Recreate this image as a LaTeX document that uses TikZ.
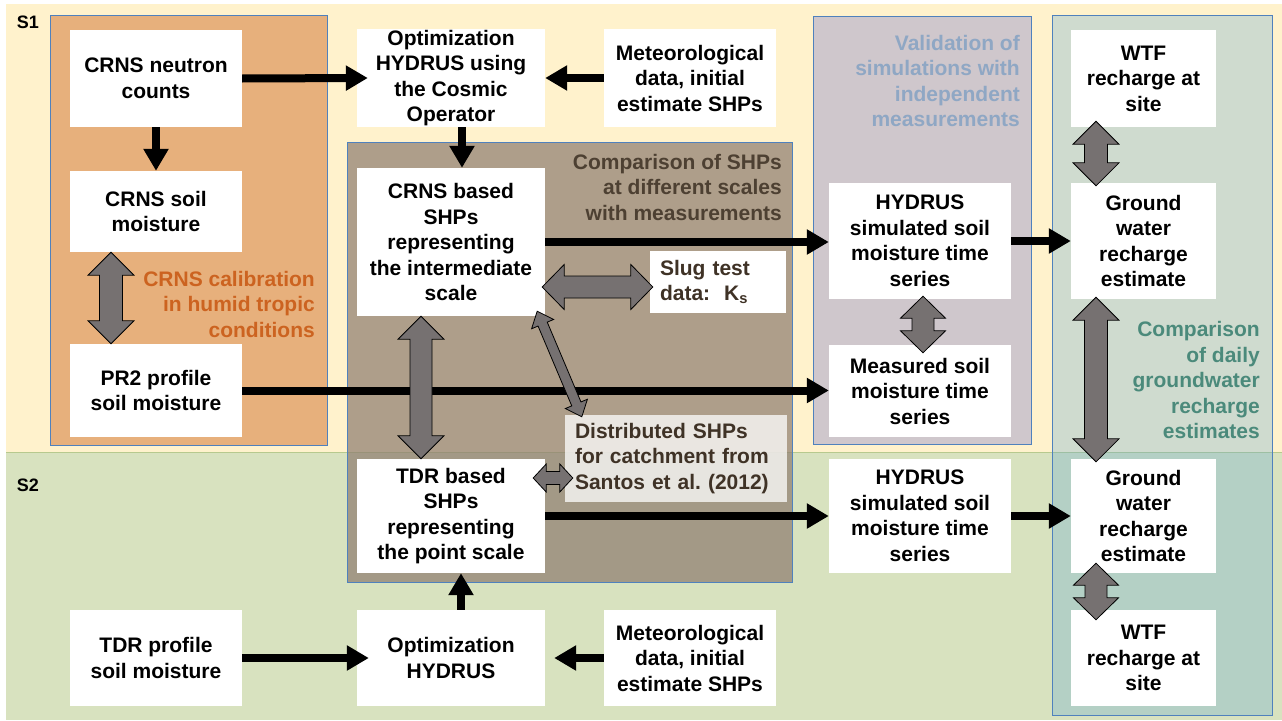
\documentclass[tikz,border=0pt]{standalone}
\usepackage{fontspec}
\setmainfont{Liberation Sans}
\usetikzlibrary{arrows.meta, calc}

\definecolor{bgSone}{HTML}{FFF2CC}
\definecolor{bgStwo}{HTML}{D8E2BF}
\definecolor{divline}{HTML}{B7C98E}
\definecolor{frameblue}{HTML}{4F81BD}
\definecolor{crnsorange}{HTML}{E7B07C}
\definecolor{shpbrown}{HTML}{8D7B6F}
\definecolor{valpurple}{HTML}{CFC7CC}
\definecolor{gwteal}{HTML}{62A9D6}
\definecolor{arrowgray}{HTML}{767171}
\definecolor{titleorange}{HTML}{CC6320}
\definecolor{titlebrown}{HTML}{4D4032}
\definecolor{titleblue}{HTML}{8FA7C4}
\definecolor{titleteal}{HTML}{4B8A7B}
\definecolor{textbrown}{HTML}{3F3226}

% double block arrow: from, to, shaft half width, head half width, head length
\newcommand\dblarrow[5]{%
	\path (#1) coordinate (da) (#2) coordinate (db);
	\path ($(da)!#5!(db)$) coordinate (dha) ($(db)!#5!(da)$) coordinate (dhb);
	\draw[dbl] (da) -- ($(dha)!#4!90:(db)$) -- ($(dha)!#3!90:(db)$)
		-- ($(dhb)!#3!-90:(da)$) -- ($(dhb)!#4!-90:(da)$) -- (db)
		-- ($(dhb)!#4!90:(da)$) -- ($(dhb)!#3!90:(da)$)
		-- ($(dha)!#3!-90:(db)$) -- ($(dha)!#4!-90:(db)$) -- cycle;
}

\begin{document}
\begin{tikzpicture}[x=1pt, y=-1pt,
	box/.style={fill=white, align=center, inner sep=0pt, font=\fontsize{21pt}{25.5pt}\selectfont\bfseries},
	lbox/.style={box, align=left, inner xsep=10pt, text=textbrown},
	groupframe/.style={draw=frameblue, line width=1pt},
	grouptitle/.style={anchor=east, align=right, inner sep=0pt, font=\fontsize{21pt}{25.5pt}\selectfont\bfseries},
	flow/.style={line width=8pt, -{Triangle[length=22pt, width=24pt]}},
	dbl/.style={fill=arrowgray, draw=black, line width=0.8pt, line join=miter}]
	\useasboundingbox (0,0) rectangle (1282,720);
	%%%	Sfondo
	\fill[bgSone] (6,4) rectangle (1282,452);
	\fill[bgStwo] (6,452) rectangle (1282,720);
	\draw[divline, line width=1pt] (6,452) -- (1282,452);
	\node[font=\fontsize{18pt}{20pt}\selectfont\bfseries] (sone) at (28,22) {S1};
	\node[font=\fontsize{18pt}{20pt}\selectfont\bfseries] (stwo) at (28,485) {S2};
	%%%	Gruppi
	\filldraw[groupframe, fill=crnsorange] (50,15) rectangle (327,445);
	\filldraw[groupframe, fill=valpurple] (813,16) rectangle (1031,444);
	\filldraw[groupframe, fill=gwteal, fill opacity=0.3] (1052,15) rectangle (1272,715);
	\filldraw[groupframe, fill=shpbrown, fill opacity=0.7] (347,142) rectangle (792,582);
	\node[grouptitle, text=titleorange] (calib) at (315,304) {CRNS calibration\\in humid tropic\\conditions};
	\node[grouptitle, text=titlebrown] (comptitle) at (782,187) {Comparison of SHPs\\at different scales\\with measurements};
	\node[grouptitle, text=titleblue] (valtitle) at (1020,81) {Validation of\\simulations with\\independent\\measurements};
	\node[grouptitle, text=titleteal] (gwtitle) at (1260,380) {Comparison\\of daily\\groundwater\\recharge\\estimates};
	%%%	Riquadri
	\node[box, minimum width=172pt, minimum height=97pt] (neutron) at (156,78.5) {CRNS neutron\\counts};
	\node[box, minimum width=172pt, minimum height=81pt] (crnssm) at (156,211.5) {CRNS soil\\moisture};
	\node[box, minimum width=172pt, minimum height=93pt] (pr2) at (156,390.5) {PR2 profile\\soil moisture};
	\node[box, minimum width=188pt, minimum height=98pt] (optcos) at (451,78) {Optimization\\HYDRUS using\\the Cosmic\\Operator};
	\node[box, minimum width=172pt, minimum height=98pt] (metone) at (690,78) {Meteorological\\data, initial\\estimate SHPs};
	\node[box, minimum width=188pt, minimum height=148pt] (crnsshp) at (451,242) {CRNS based\\SHPs\\representing\\the intermediate\\scale};
	\node[lbox, text width=116pt, minimum height=62pt] (slug) at (718,282) {Slug test\\data:\ \ K\textsubscript{s}};
	\node[lbox, fill opacity=0.75, text opacity=1, text width=202pt, minimum height=87pt] (dist) at (676,458.5) {Distributed SHPs\\for catchment from\\Santos et al.\ (2012)};
	\node[box, minimum width=188pt, minimum height=114pt] (tdrshp) at (451,516) {TDR based\\SHPs\\representing\\the point scale};
	\node[box, minimum width=172pt, minimum height=96pt] (tdrprof) at (156,658) {TDR profile\\soil moisture};
	\node[box, minimum width=188pt, minimum height=96pt] (opthyd) at (451,658) {Optimization\\HYDRUS};
	\node[box, minimum width=172pt, minimum height=96pt] (mettwo) at (690,658) {Meteorological\\data, initial\\estimate SHPs};
	\node[box, minimum width=182pt, minimum height=116pt] (hydone) at (920,241) {HYDRUS\\simulated soil\\moisture time\\series};
	\node[box, minimum width=182pt, minimum height=92pt] (measured) at (920,391) {Measured soil\\moisture time\\series};
	\node[box, minimum width=182pt, minimum height=114pt] (hydtwo) at (920,516) {HYDRUS\\simulated soil\\moisture time\\series};
	\node[box, minimum width=145pt, minimum height=97pt] (wtfone) at (1143.5,78.5) {WTF\\recharge at\\site};
	\node[box, minimum width=145pt, minimum height=116pt] (gwone) at (1143.5,241) {Ground\\water\\recharge\\estimate};
	\node[box, minimum width=145pt, minimum height=114pt] (gwtwo) at (1143.5,516) {Ground\\water\\recharge\\estimate};
	\node[box, minimum width=145pt, minimum height=96pt] (wtftwo) at (1143.5,658) {WTF\\recharge at\\site};
	%%%	Frecce
	\draw[flow] (neutron) -- (crnssm);
	\draw[flow] (neutron.east) -- ([xshift=11pt]optcos.west);
	\draw[flow] (metone) -- (optcos);
	\draw[flow] ([xshift=11pt]optcos.south) -- ([xshift=11pt]crnsshp.north);
	\draw[flow] (crnsshp.east) -- (crnsshp.east -| hydone.west);
	\draw[flow] (pr2.east) -- (pr2.east -| measured.west);
	\draw[flow] (tdrshp) -- (hydtwo);
	\draw[flow] (hydone) -- (gwone);
	\draw[flow] (hydtwo) -- (gwtwo);
	\draw[flow] (tdrprof.east) -- ([xshift=12pt]opthyd.west);
	\draw[flow] (mettwo.west) -- ([xshift=9pt]opthyd.east);
	\draw[flow] ([xshift=10pt]opthyd.north) -- ([xshift=10pt]tdrshp.south);
	%%%	Frecce doppie
	\dblarrow{[xshift=-45pt]crnssm.south}{[xshift=-45pt]pr2.north}{11.5pt}{23pt}{23pt}
	\dblarrow{[xshift=-30pt]crnsshp.south}{[xshift=-30pt]tdrshp.north}{11pt}{23pt}{23pt}
	\dblarrow{[xshift=-3pt,yshift=-45pt]crnsshp.east}{[xshift=3pt,yshift=-5pt]slug.west}{11pt}{22.5pt}{22pt}
	\dblarrow{[xshift=-8pt,yshift=5pt]crnsshp.south east}{[xshift=17pt,yshift=-2pt]dist.north west}{5pt}{12pt}{14pt}
	\dblarrow{[xshift=-12pt,yshift=38pt]tdrshp.east}{[xshift=8pt,yshift=-19.5pt]dist.west}{6.5pt}{14pt}{13pt}
	\dblarrow{[xshift=3pt,yshift=3pt]hydone.south}{[xshift=3pt,yshift=-8pt]measured.north}{11pt}{22.5pt}{22pt}
	\dblarrow{[xshift=-47.5pt,yshift=6pt]wtfone.south}{[xshift=-47.5pt,yshift=-3pt]gwone.north}{11.5pt}{23pt}{23pt}
	\dblarrow{[xshift=-47.5pt,yshift=2pt]gwone.south}{[xshift=-47.5pt,yshift=-3pt]gwtwo.north}{11.5pt}{23pt}{23pt}
	\dblarrow{[xshift=-47.5pt,yshift=10pt]gwtwo.south}{[xshift=-47.5pt,yshift=-10pt]wtftwo.north}{11pt}{22.5pt}{22pt}
\end{tikzpicture}
\end{document}
